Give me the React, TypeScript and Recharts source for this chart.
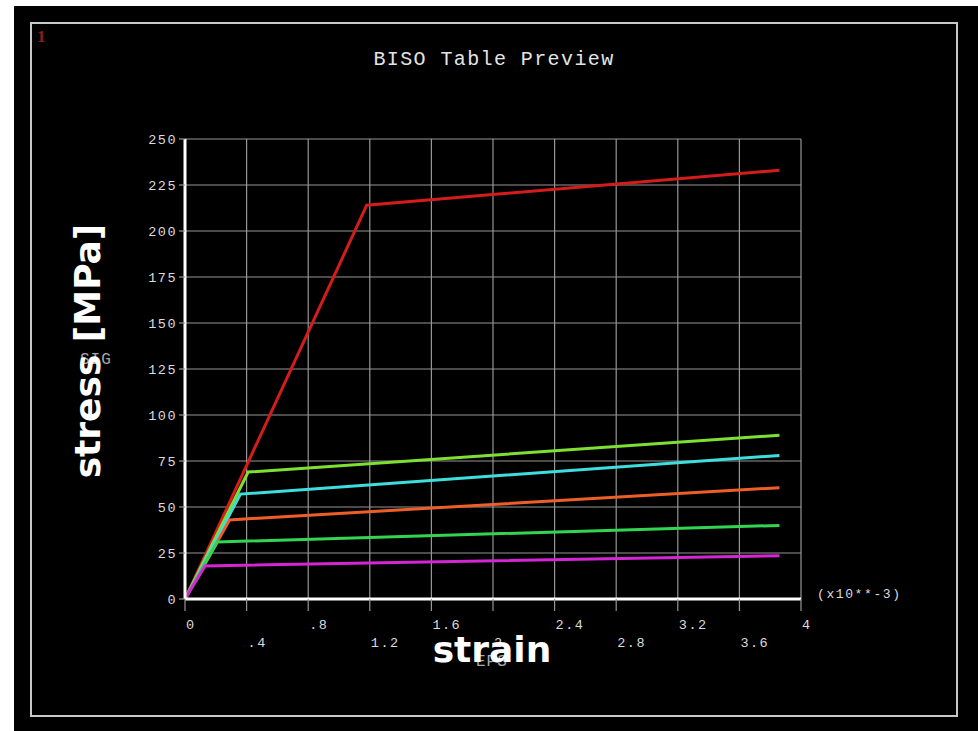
import React from "react";
import { LineChart, Line, XAxis, YAxis, CartesianGrid } from "recharts";

// strain in units of 1e-3, stress in MPa
const redCurve = [
  { x: 0, y: 0 },
  { x: 1.18, y: 214 },
  { x: 3.86, y: 233 },
];
const limeCurve = [
  { x: 0, y: 0 },
  { x: 0.41, y: 69 },
  { x: 3.86, y: 89 },
];
const cyanCurve = [
  { x: 0, y: 0 },
  { x: 0.36, y: 57 },
  { x: 3.86, y: 78 },
];
const orangeCurve = [
  { x: 0, y: 0 },
  { x: 0.29, y: 43 },
  { x: 3.86, y: 60.5 },
];
const greenCurve = [
  { x: 0, y: 0 },
  { x: 0.21, y: 31 },
  { x: 3.86, y: 40 },
];
const magentaCurve = [
  { x: 0, y: 0 },
  { x: 0.13, y: 18 },
  { x: 3.86, y: 23.5 },
];

const xTicks = [0, 0.4, 0.8, 1.2, 1.6, 2, 2.4, 2.8, 3.2, 3.6, 4];
const xTickLabels = ["0", ".4", ".8", "1.2", "1.6", "2", "2.4", "2.8", "3.2", "3.6", "4"];
const yTicks = [0, 25, 50, 75, 100, 125, 150, 175, 200, 225, 250];

const MONO = "'Liberation Mono', 'DejaVu Sans Mono', monospace";
const LABEL_COLOR = "#dcdcdc";

const XTick = (props: any) => {
  const { x, y, index } = props;
  const upper = index % 2 === 0;
  return (
    <text
      x={x + 1}
      y={upper ? y + 16 : y + 34}
      textAnchor="start"
      fill={LABEL_COLOR}
      fontFamily={MONO}
      fontSize={13.5}
      letterSpacing={1.5}
    >
      {xTickLabels[index]}
    </text>
  );
};

const YTick = (props: any) => {
  const { x, y, payload } = props;
  return (
    <text
      x={x}
      y={y + 5}
      textAnchor="end"
      fill={LABEL_COLOR}
      fontFamily={MONO}
      fontSize={13.5}
      letterSpacing={1.5}
    >
      {String(payload.value)}
    </text>
  );
};

export default function App() {
  return (
    <div
      style={{
        position: "absolute",
        left: 0,
        top: 0,
        width: 978,
        height: 731,
        background: "#ffffff",
        overflow: "hidden",
      }}
    >
      <div
        style={{
          position: "absolute",
          left: 14,
          top: 6,
          width: 964,
          height: 725,
          background: "#000000",
        }}
      />
      <div
        style={{
          position: "absolute",
          left: 30,
          top: 22,
          width: 924,
          height: 691,
          border: "2px solid #c8c8c8",
        }}
      />
      <div style={{ position: "absolute", left: 0, top: 0 }}>
        <LineChart
          width={978}
          height={731}
          margin={{ top: 139, right: 177, bottom: 82, left: 125 }}
        >
          <CartesianGrid stroke="#969696" strokeWidth={1.2} horizontalValues={yTicks} verticalValues={xTicks} />
          <XAxis
            dataKey="x"
            type="number"
            domain={[0, 4]}
            ticks={xTicks}
            height={50}
            tickSize={12}
            tickLine={{ stroke: "#969696", strokeWidth: 1.2 }}
            axisLine={{ stroke: "#ffffff", strokeWidth: 3 }}
            tick={<XTick />}
            allowDataOverflow
          />
          <YAxis
            dataKey="y"
            type="number"
            domain={[0, 250]}
            ticks={yTicks}
            width={60}
            tickSize={6}
            tickLine={{ stroke: "#969696", strokeWidth: 1.2 }}
            axisLine={{ stroke: "#ffffff", strokeWidth: 3 }}
            tick={<YTick />}
            allowDataOverflow
          />
          <Line data={redCurve} dataKey="y" type="linear" stroke="#d41c1c" strokeWidth={3} dot={false} isAnimationActive={false} />
          <Line data={limeCurve} dataKey="y" type="linear" stroke="#7ee032" strokeWidth={3} dot={false} isAnimationActive={false} />
          <Line data={cyanCurve} dataKey="y" type="linear" stroke="#3fdede" strokeWidth={3} dot={false} isAnimationActive={false} />
          <Line data={orangeCurve} dataKey="y" type="linear" stroke="#ee5e28" strokeWidth={3} dot={false} isAnimationActive={false} />
          <Line data={greenCurve} dataKey="y" type="linear" stroke="#32d452" strokeWidth={3} dot={false} isAnimationActive={false} />
          <Line data={magentaCurve} dataKey="y" type="linear" stroke="#d426d4" strokeWidth={3} dot={false} isAnimationActive={false} />
        </LineChart>
      </div>
      {/* window number */}
      <div
        style={{
          position: "absolute",
          left: 37,
          top: 28,
          color: "#8e1c1c",
          fontFamily: "'Liberation Serif', serif",
          fontWeight: "bold",
          fontSize: 17,
          lineHeight: 1,
        }}
      >
        1
      </div>
      {/* title */}
      <div
        style={{
          position: "absolute",
          left: 0,
          width: 988,
          top: 48,
          textAlign: "center",
          color: "#e4e4e4",
          fontFamily: MONO,
          fontSize: 20,
          letterSpacing: 1.4,
          whiteSpace: "nowrap",
        }}
      >
        BISO Table Preview
      </div>
      {/* multiplier */}
      <div
        style={{
          position: "absolute",
          left: 817,
          top: 587,
          color: LABEL_COLOR,
          fontFamily: MONO,
          fontSize: 13,
          letterSpacing: 1.6,
          whiteSpace: "nowrap",
        }}
      >
        (x10**-3)
      </div>
      {/* original axis labels */}
      <div
        style={{
          position: "absolute",
          left: 80,
          top: 352,
          color: "#a8a8a8",
          fontFamily: MONO,
          fontSize: 16,
          letterSpacing: 1,
          whiteSpace: "nowrap",
          lineHeight: 1,
        }}
      >
        SIG
      </div>
      <div
        style={{
          position: "absolute",
          left: 476,
          top: 654,
          color: "#a8a8a8",
          fontFamily: MONO,
          fontSize: 16,
          letterSpacing: 1,
          whiteSpace: "nowrap",
          lineHeight: 1,
        }}
      >
        EPS
      </div>
      {/* overlaid labels */}
      <div
        style={{
          position: "absolute",
          left: 88,
          top: 351,
          transform: "translate(-50%, -50%) rotate(-90deg)",
          color: "#ffffff",
          fontFamily: "'DejaVu Sans', sans-serif",
          fontWeight: "bold",
          fontSize: 36,
          whiteSpace: "nowrap",
          lineHeight: 1,
        }}
      >
        stress [MPa]
      </div>
      <div
        style={{
          position: "absolute",
          left: 492,
          top: 650,
          transform: "translate(-50%, -50%)",
          color: "#ffffff",
          fontFamily: "'DejaVu Sans', sans-serif",
          fontWeight: "bold",
          fontSize: 36,
          whiteSpace: "nowrap",
          lineHeight: 1,
        }}
      >
        strain
      </div>
    </div>
  );
}
